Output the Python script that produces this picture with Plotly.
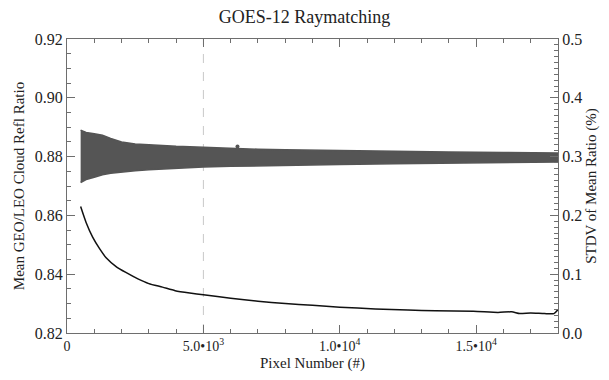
import plotly.graph_objects as go

# Envelope of the dense gray scatter band (mean ratio, left axis)
band_x = [500, 700, 1000, 1300, 1600, 2000, 2500, 3000, 4000, 5000, 6000, 7000,
          8000, 10000, 12000, 14000, 16000, 18000]
band_upper = [0.8890, 0.8882, 0.8878, 0.8873, 0.8862, 0.8850, 0.8843, 0.8840,
              0.8835, 0.8832, 0.8828, 0.8825, 0.8823, 0.8820, 0.8818, 0.8816,
              0.8814, 0.8812]
band_lower = [0.8712, 0.8722, 0.8730, 0.8738, 0.8743, 0.8748, 0.8752, 0.8755,
              0.8760, 0.8765, 0.8767, 0.8769, 0.8771, 0.8773, 0.8776, 0.8778,
              0.8780, 0.8782]
outlier_x = [6250, 17900]
outlier_y = [0.8834, 0.8800]

# STDV of mean ratio (%), right axis
stdv_x = [500, 700, 940, 1200, 1434, 1800, 2157, 2600, 3000, 3500, 3965, 4500,
          5000, 6000, 7000, 8000, 9000, 10000, 11300, 12500, 13500, 14900,
          15800, 16300, 16600, 17000, 17500, 17850, 18000]
stdv_y = [0.215, 0.188, 0.163, 0.143, 0.128, 0.113, 0.103, 0.092, 0.084, 0.078,
          0.072, 0.068, 0.065, 0.059, 0.054, 0.050, 0.047, 0.044, 0.041, 0.039,
          0.038, 0.037, 0.035, 0.036, 0.033, 0.034, 0.033, 0.033, 0.040]

x_tickvals = [0, 5000, 10000, 15000]
x_ticktext = ["0", "5.0•10<sup>3</sup>", "1.0•10<sup>4</sup>", "1.5•10<sup>4</sup>"]
y_tickvals = [0.82, 0.84, 0.86, 0.88, 0.90, 0.92]
y2_tickvals = [0.0, 0.1, 0.2, 0.3, 0.4, 0.5]

band_color = "#555555"
axis_color = "#6e6e6e"
font = "'Liberation Serif', 'Times New Roman', serif"

fig = go.Figure()
fig.add_trace(go.Scatter(x=band_x, y=band_lower, mode="lines",
                         line=dict(color=band_color, width=1.5), showlegend=False,
                         hoverinfo="skip"))
fig.add_trace(go.Scatter(x=band_x, y=band_upper, mode="lines", fill="tonexty",
                         fillcolor=band_color, line=dict(color=band_color, width=1.5),
                         showlegend=False))
fig.add_trace(go.Scatter(x=outlier_x, y=outlier_y, mode="markers",
                         marker=dict(color=band_color, size=4), showlegend=False))
fig.add_trace(go.Scatter(x=stdv_x, y=stdv_y, mode="lines", yaxis="y2",
                         line=dict(color="#111111", width=1.5, shape="spline",
                                   smoothing=0.6),
                         showlegend=False))

fig.add_shape(type="line", xref="x", yref="paper", x0=5000, x1=5000, y0=0, y1=1,
              line=dict(color="#c8c8c8", width=1, dash="dash"), layer="below")

fig.update_layout(
    width=609, height=380,
    margin=dict(l=67, r=44, t=39, b=47),
    paper_bgcolor="white", plot_bgcolor="white",
    font=dict(family=font, color="#222222", size=14),
    title=dict(text="GOES-12 Raymatching", x=0.5, xanchor="center", y=0.955,
               yanchor="middle", font=dict(family=font, size=18, color="#222222")),
    xaxis=dict(range=[0, 18000], tickvals=x_tickvals, ticktext=x_ticktext,
               showgrid=False, zeroline=False, showline=True, linecolor=axis_color,
               linewidth=1, mirror="ticks", ticks="inside", ticklen=8,
               tickcolor=axis_color,
               minor=dict(dtick=1000, ticks="inside", ticklen=4, tickcolor=axis_color),
               title=dict(text="Pixel Number (#)", font=dict(family=font, size=15),
                          standoff=4),
               tickfont=dict(family=font, size=14)),
    yaxis=dict(range=[0.82, 0.92], tickvals=y_tickvals,
               tickformat=".2f", showgrid=False, zeroline=False, showline=True,
               linecolor=axis_color, linewidth=1, ticks="inside", ticklen=8,
               tickcolor=axis_color,
               minor=dict(dtick=0.005, ticks="inside", ticklen=4, tickcolor=axis_color),
               title=dict(text="Mean GEO/LEO Cloud Refl Ratio",
                          font=dict(family=font, size=15), standoff=6),
               tickfont=dict(family=font, size=16)),
    yaxis2=dict(range=[0.0, 0.5], tickvals=y2_tickvals, tickformat=".1f",
                overlaying="y", side="right", showgrid=False, zeroline=False,
                showline=True, linecolor=axis_color, linewidth=1, ticks="inside",
                ticklen=8, tickcolor=axis_color,
                minor=dict(dtick=0.01, ticks="inside", ticklen=4, tickcolor=axis_color),
                title=dict(text="STDV of Mean Ratio (%)",
                           font=dict(family=font, size=15), standoff=4),
                tickfont=dict(family=font, size=16)),
)

fig.write_html("out.html")
